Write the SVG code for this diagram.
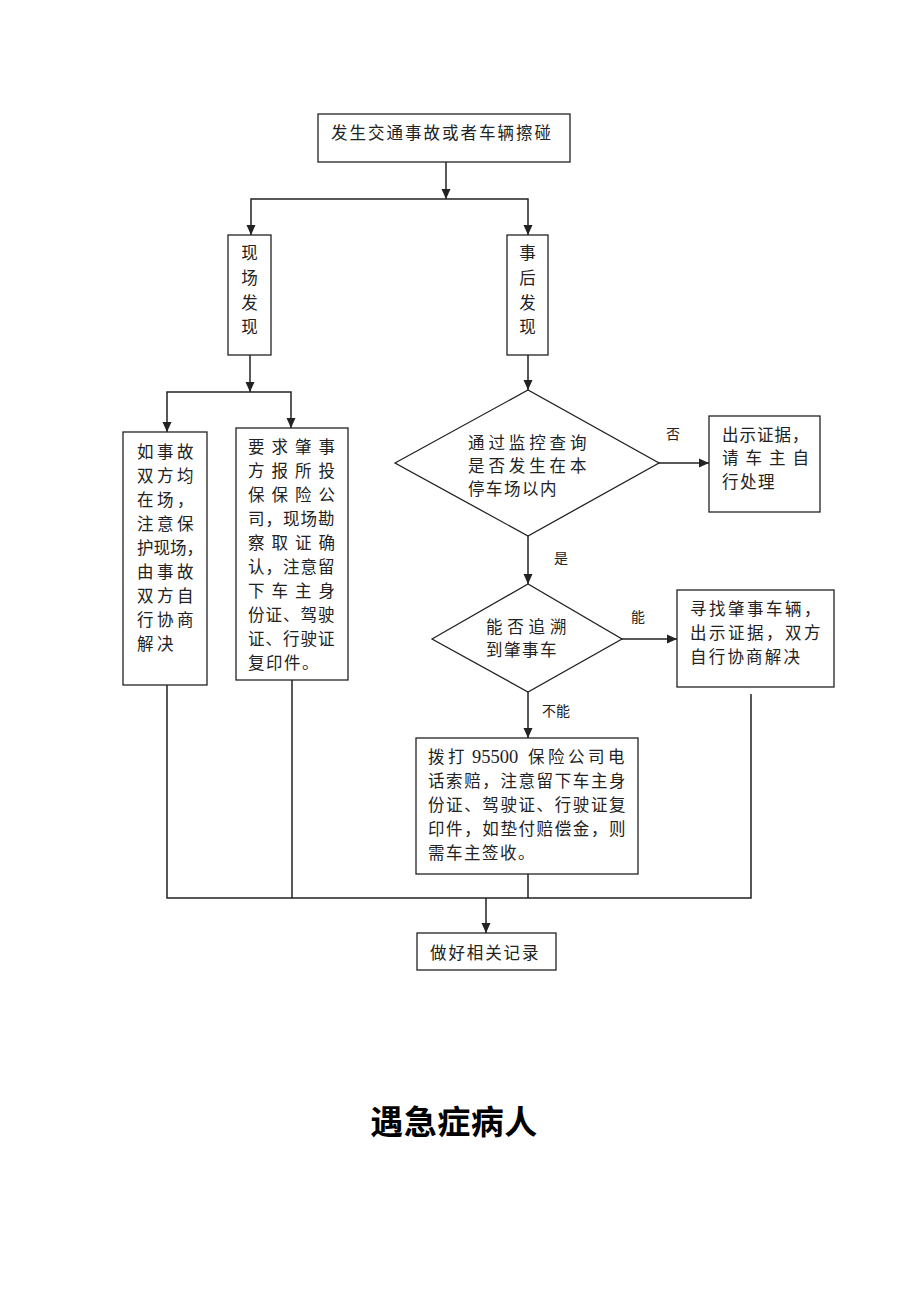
<svg xmlns="http://www.w3.org/2000/svg" width="920" height="1302" viewBox="0 0 920 1302">
<style>
text{font-family:"Liberation Serif","Noto Sans CJK SC",serif;font-size:16.5px;fill:#222}
.lbl{font-size:14px}
.box{fill:#fff;stroke:#222;stroke-width:1.3}
.c{fill:none;stroke:#222;stroke-width:1.5}
.title{font-family:"Noto Sans CJK SC",sans-serif;font-size:33px;font-weight:bold;fill:#000}
</style>
<defs>
<marker id="ah" markerUnits="userSpaceOnUse" markerWidth="10" markerHeight="10" refX="10" refY="5" orient="auto">
<path d="M0,0.5 L10,5 L0,9.5 z" fill="#222"/>
</marker>
</defs>
<rect width="920" height="1302" fill="#fff"/>
<g id="connectors">
<path class="c" d="M446,162 V199" marker-end="url(#ah)"/>
<path class="c" d="M446,199 H251 V235" marker-end="url(#ah)"/>
<path class="c" d="M446,199 H528 V235" marker-end="url(#ah)"/>
<path class="c" d="M250,355 V392" marker-end="url(#ah)"/>
<path class="c" d="M250,392 H167 V432" marker-end="url(#ah)"/>
<path class="c" d="M250,392 H291 V428" marker-end="url(#ah)"/>
<path class="c" d="M528,355 V390" marker-end="url(#ah)"/>
<path class="c" d="M528,536 V584" marker-end="url(#ah)"/>
<path class="c" d="M659,463 H709" marker-end="url(#ah)"/>
<path class="c" d="M622,639 H677" marker-end="url(#ah)"/>
<path class="c" d="M528,692 V738" marker-end="url(#ah)"/>
<path class="c" d="M167,685 V898 H751 V694"/>
<path class="c" d="M292,680 V898"/>
<path class="c" d="M528,874 V898"/>
<path class="c" d="M486,898 V933" marker-end="url(#ah)"/>
<text class="lbl" x="666" y="439">否</text>
<text class="lbl" x="554" y="563">是</text>
<text class="lbl" x="631" y="622">能</text>
<text class="lbl" x="542" y="716">不能</text>
</g>
<g id="n_start">
<rect class="box" x="318" y="114" width="252" height="48"/>
<text x="331" y="139" letter-spacing="2">发生交通事故或者车辆擦碰</text>
</g>
<g id="n_onsite">
<rect class="box" x="228" y="235" width="43" height="120"/>
<text x="249.5" y="259" text-anchor="middle">现</text>
<text x="249.5" y="284" text-anchor="middle">场</text>
<text x="249.5" y="309" text-anchor="middle">发</text>
<text x="249.5" y="333" text-anchor="middle">现</text>
</g>
<g id="n_after">
<rect class="box" x="507" y="235" width="41" height="120"/>
<text x="527.5" y="259" text-anchor="middle">事</text>
<text x="527.5" y="284" text-anchor="middle">后</text>
<text x="527.5" y="309" text-anchor="middle">发</text>
<text x="527.5" y="333" text-anchor="middle">现</text>
</g>
<g id="n_both">
<rect class="box" x="123" y="432" width="84" height="253"/>
<text x="137" y="458" letter-spacing="3.5">如事故</text>
<text x="137" y="482" letter-spacing="3.5">双方均</text>
<text x="137" y="506" letter-spacing="3.5">在场，</text>
<text x="137" y="530" letter-spacing="3.5">注意保</text>
<text x="137" y="554">护现场，</text>
<text x="137" y="578" letter-spacing="3.5">由事故</text>
<text x="137" y="602" letter-spacing="3.5">双方自</text>
<text x="137" y="626" letter-spacing="3.5">行协商</text>
<text x="137" y="650" letter-spacing="3.5">解决</text>
</g>
<g id="n_insurer">
<rect class="box" x="236" y="428" width="112" height="252"/>
<text x="248" y="453" letter-spacing="7">要求肇事</text>
<text x="248" y="477" letter-spacing="7">方报所投</text>
<text x="248" y="501" letter-spacing="7">保保险公</text>
<text x="248" y="525" letter-spacing="1">司，现场勘</text>
<text x="248" y="549" letter-spacing="7">察取证确</text>
<text x="248" y="573" letter-spacing="1">认，注意留</text>
<text x="248" y="597" letter-spacing="7">下车主身</text>
<text x="248" y="621" letter-spacing="1">份证、驾驶</text>
<text x="248" y="645" letter-spacing="1">证、行驶证</text>
<text x="248" y="669" letter-spacing="1.5">复印件。</text>
</g>
<g id="n_monitor">
<polygon class="box" points="395,463 528,390 659,463 528,536"/>
<text x="468" y="449" letter-spacing="3.9">通过监控查询</text>
<text x="468" y="472" letter-spacing="3.9">是否发生在本</text>
<text x="468" y="495" letter-spacing="1.5">停车场以内</text>
</g>
<g id="n_owner">
<rect class="box" x="709" y="416" width="111" height="96"/>
<text x="722" y="441" letter-spacing="1">出示证据，</text>
<text x="722" y="464" letter-spacing="7">请车主自</text>
<text x="722" y="488" letter-spacing="1.5">行处理</text>
</g>
<g id="n_trace">
<polygon class="box" points="432,639 528,584 622,639 528,692"/>
<text x="486" y="633" letter-spacing="4.8">能否追溯</text>
<text x="486" y="656" letter-spacing="1.5">到肇事车</text>
</g>
<g id="n_find">
<rect class="box" x="677" y="590" width="157" height="97"/>
<text x="690" y="615" letter-spacing="2.5">寻找肇事车辆，</text>
<text x="690" y="639" letter-spacing="2.5">出示证据，双方</text>
<text x="690" y="663" letter-spacing="2.2">自行协商解决</text>
</g>
<g id="n_call">
<rect class="box" x="416" y="738" width="222" height="136"/>
<text y="763"><tspan x="428" letter-spacing="3.5">拨打</tspan><tspan x="472" style="font-size:18.5px">95500</tspan><tspan x="528" letter-spacing="3.5">保险公司电</tspan></text>
<text x="428" y="787" letter-spacing="1.6">话索赔，注意留下车主身</text>
<text x="428" y="811" letter-spacing="1.6">份证、驾驶证、行驶证复</text>
<text x="428" y="835" letter-spacing="1.6">印件，如垫付赔偿金，则</text>
<text x="428" y="859" letter-spacing="1.5">需车主签收。</text>
</g>
<g id="n_record">
<rect class="box" x="417" y="933" width="139" height="37"/>
<text x="430" y="959" letter-spacing="1.9">做好相关记录</text>
</g>
<g id="title">
<text class="title" x="454" y="1134" text-anchor="middle" letter-spacing="0.5">遇急症病人</text>
</g>
</svg>
